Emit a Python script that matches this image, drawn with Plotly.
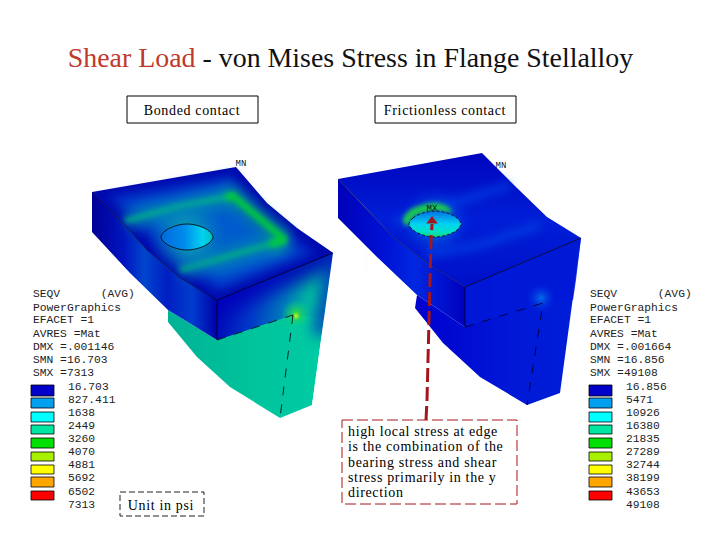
import json
import plotly.graph_objects as go

TITLE_RED = "Shear Load"
TITLE_REST = " - von Mises Stress in Flange Stellalloy"

BAND_COLORS = ["#0000c8", "#00a0f0", "#00ffff", "#00e6a0", "#00e000", "#a8f000", "#ffff00", "#ffa500", "#ff0000"]
BAND_TOPS = [385, 398, 412, 425, 438, 452, 465, 477, 491]
BAND_HEIGHTS = [11, 10, 10, 9, 10, 9, 9, 10, 9]
LABEL_Y = [387, 400, 413, 426, 439, 452, 465, 478, 492, 505]
HEADER_Y = [294, 308, 320, 334, 347, 360, 373]

LEFT_HEADER = ["SEQV      (AVG)", "PowerGraphics", "EFACET =1", "AVRES =Mat", "DMX =.001146", "SMN =16.703", "SMX =7313"]
LEFT_LABELS = ["16.703", "827.411", "1638", "2449", "3260", "4070", "4881", "5692", "6502", "7313"]
RIGHT_HEADER = ["SEQV      (AVG)", "PowerGraphics", "EFACET =1", "AVRES =Mat", "DMX =.001664", "SMN =16.856", "SMX =49108"]
RIGHT_LABELS = ["16.856", "5471", "10926", "16380", "21835", "27289", "32744", "38199", "43653", "49108"]
NOTE_LINES = ["high local stress at edge", "is the combination of the", "bearing stress and shear", "stress primarily in the y", "direction"]
NOTE_Y = [432, 447, 463, 478, 493]

# Left part outlines (x, y pairs)
L_TOP_X = [92, 236, 267, 297, 333, 217, 180, 147, 117, 92]
L_TOP_Y = [192, 167, 203, 228, 253, 300, 278, 250, 217, 192]
L_IN1_X = [108, 232, 262, 290, 315, 218, 183, 152, 125, 108]
L_IN1_Y = [196, 175, 210, 232, 254, 292, 270, 242, 215, 196]
L_IN2_X = [122, 228, 255, 282, 300, 220, 188, 160, 135, 122]
L_IN2_Y = [202, 182, 215, 236, 254, 284, 262, 236, 213, 202]
L_IN3_X = [135, 225, 248, 272, 285, 222, 195, 170, 147, 135]
L_IN3_Y = [207, 190, 220, 240, 254, 276, 256, 232, 213, 207]
L_SIDE_X = [92, 117, 147, 180, 217, 217, 168, 130, 92, 92]
L_SIDE_Y = [192, 217, 250, 278, 300, 340, 310, 273, 232, 192]
L_WEB_X = [168, 168, 197, 230, 280, 312, 333, 217, 217, 168]
L_WEB_Y = [310, 322, 357, 387, 418, 405, 253, 300, 340, 310]
L_FRONT_X = [217, 333, 325, 293, 217]
L_FRONT_Y = [300, 253, 318, 315, 340]
L_EDGE_X = [205, 345]
L_EDGE_Y = [305, 248]
L_REDGE_X = [337, 320]
L_REDGE_Y = [250, 335]
L_MASK_X = [297, 333, 312, 365, 365, 297]
L_MASK_Y = [228, 253, 405, 405, 205, 228]

# Stress ridges on the left top face
L_RIDGE1_X = [125, 180, 233]
L_RIDGE1_Y = [221, 206, 196]
L_RIDGE2_X = [226, 233, 285, 270]
L_RIDGE2_Y = [197, 196, 240, 244]
L_RIDGE3_X = [285, 230, 180]
L_RIDGE3_Y = [240, 256, 270]

# Right part outlines
R_TOP_X = [338, 482, 517, 547, 581, 465, 430, 393, 363, 338]
R_TOP_Y = [179, 153, 188, 217, 238, 287, 265, 237, 205, 179]
R_SIDE_X = [338, 363, 393, 430, 465, 465, 417, 377, 338, 338]
R_SIDE_Y = [179, 205, 237, 265, 287, 327, 295, 257, 218, 179]
R_WEB_X = [417, 415, 443, 480, 527, 560, 581, 465, 465, 417]
R_WEB_Y = [295, 308, 343, 377, 405, 393, 238, 287, 327, 295]
R_FRONT_X = [465, 581, 576, 573, 543, 465]
R_FRONT_Y = [287, 238, 280, 300, 303, 327]
R_RIDGE1_X = [395, 450, 510]
R_RIDGE1_Y = [222, 205, 185]
R_RIDGE2_X = [425, 480, 540]
R_RIDGE2_Y = [255, 245, 225]

# Holes (closed outlines)
L_HOLE_X = [161, 165, 175, 187, 199, 209, 213, 209, 199, 187, 175, 165, 161]
L_HOLE_Y = [237, 231, 226, 224, 226, 231, 237, 243, 248, 250, 248, 243, 237]
R_HOLE_X = [409, 413, 423, 435, 447, 457, 461, 457, 447, 435, 423, 413, 409]
R_HOLE_Y = [224, 218, 213, 211, 213, 218, 224, 230, 235, 237, 235, 230, 224]
R_GLOW_X = [403, 410, 422, 436, 448, 452, 440, 426, 414, 407, 403]
R_GLOW_Y = [220, 210, 205, 203, 207, 212, 211, 212, 217, 226, 220]

fig = go.Figure()
soft = []  # (scatter-trace index, blur radius)


def mark_soft(blur):
    if blur:
        soft.append((len(fig.data) - 1, blur))


def poly(xs, ys, color=None, grad=None, shape="linear", blur=0):
    kw = dict(x=xs, y=ys, mode="lines", fill="toself", hoverinfo="skip", showlegend=False,
              line=dict(color="rgba(0,0,0,0)", width=0, shape=shape))
    if grad:
        kw["fillgradient"] = dict(type=grad[0], colorscale=grad[1])
    else:
        kw["fillcolor"] = color
    fig.add_trace(go.Scatter(**kw))
    mark_soft(blur)


def stroke(xs, ys, color="black", width=1, dash="solid", shape="linear", blur=0):
    fig.add_trace(go.Scatter(x=xs, y=ys, mode="lines", hoverinfo="skip", showlegend=False,
                             line=dict(color=color, width=width, dash=dash, shape=shape)))
    mark_soft(blur)


def glow(x, y, size, inner, outer):
    fig.add_trace(go.Scatter(x=[x], y=[y], mode="markers", hoverinfo="skip", showlegend=False,
                             marker=dict(size=size, color=outer, line=dict(width=0),
                                         gradient=dict(type="radial", color=inner))))


# ---------- left part ----------
poly(L_WEB_X, L_WEB_Y, grad=("horizontal", [[0, "rgb(0,178,150)"], [0.5, "rgb(0,195,155)"], [1, "rgb(0,205,165)"]]))
poly(L_FRONT_X, L_FRONT_Y, grad=("horizontal", [[0, "rgb(0,10,185)"], [0.3, "rgb(0,60,200)"], [0.6, "rgb(0,130,185)"],
                                                [0.8, "rgb(0,190,160)"], [1, "rgb(0,195,165)"]]))
stroke(L_EDGE_X, L_EDGE_Y, "rgba(0,0,185,0.9)", 30, blur=9)
stroke(L_REDGE_X, L_REDGE_Y, "rgba(0,40,190,0.8)", 16, blur=7)
glow(296, 314, 30, "rgba(60,220,60,1)", "rgba(0,210,130,0)")
glow(296, 316, 10, "rgba(235,240,40,1)", "rgba(60,220,60,0)")
poly(L_MASK_X, L_MASK_Y, "white")
poly(L_SIDE_X, L_SIDE_Y, grad=("horizontal", [[0, "rgb(0,0,150)"], [0.25, "rgb(0,20,190)"], [0.42, "rgb(0,70,205)"],
                                              [0.6, "rgb(0,30,195)"], [0.8, "rgb(0,60,205)"], [1, "rgb(0,0,170)"]]))
poly(L_TOP_X, L_TOP_Y, "rgb(0,10,175)")
poly(L_IN1_X, L_IN1_Y, "rgba(0,60,205,0.7)", blur=5)
poly(L_IN2_X, L_IN2_Y, "rgba(0,85,210,0.7)", blur=5)
poly(L_IN3_X, L_IN3_Y, "rgba(0,105,205,0.6)", blur=5)
stroke(L_RIDGE1_X, L_RIDGE1_Y, "rgba(0,150,170,0.55)", 20, blur=6)
stroke(L_RIDGE3_X, L_RIDGE3_Y, "rgba(0,150,170,0.55)", 20, blur=6)
stroke(L_RIDGE2_X, L_RIDGE2_Y, "rgba(0,170,130,0.6)", 18, blur=6)
stroke(L_RIDGE1_X, L_RIDGE1_Y, "rgba(0,185,130,0.7)", 6, blur=2.5)
stroke(L_RIDGE3_X, L_RIDGE3_Y, "rgba(0,185,120,0.7)", 6, blur=2.5)
stroke(L_RIDGE2_X, L_RIDGE2_Y, "rgba(0,200,60,0.95)", 7, blur=2.5)
glow(187, 237, 80, "rgba(20,205,150,0.95)", "rgba(0,120,200,0)")
poly(L_HOLE_X, L_HOLE_Y, grad=("horizontal", [[0, "rgb(0,105,220)"], [0.45, "rgb(0,140,235)"], [0.8, "rgb(0,210,240)"], [1, "rgb(0,190,190)"]]), shape="spline")
stroke(L_HOLE_X, L_HOLE_Y, "black", 0.8, shape="spline")
stroke(L_TOP_X[5:10], L_TOP_Y[5:10], "rgba(0,0,40,0.85)", 0.8)
stroke([L_TOP_X[4], L_TOP_X[5], 217], [L_TOP_Y[4], L_TOP_Y[5], 340], "rgba(0,0,30,0.9)", 0.9)
stroke([217, 293], [340, 315], "rgba(0,30,40,0.95)", 1, "dash")
stroke([293, 280], [315, 418], "rgba(0,30,40,0.95)", 1, "dash")

# ---------- right part ----------
poly(R_WEB_X, R_WEB_Y, grad=("horizontal", [[0, "rgb(0,0,205)"], [0.6, "rgb(0,25,215)"], [1, "rgb(0,30,215)"]]))
poly(R_FRONT_X, R_FRONT_Y, "rgba(0,25,215,0.8)")
glow(541, 298, 30, "rgba(0,120,235,0.9)", "rgba(0,40,220,0)")
poly(R_SIDE_X, R_SIDE_Y, grad=("horizontal", [[0, "rgb(0,0,185)"], [0.4, "rgb(0,20,215)"], [0.6, "rgb(0,40,225)"], [1, "rgb(0,0,190)"]]))
poly(R_TOP_X, R_TOP_Y, grad=("vertical", [[0, "rgb(0,15,200)"], [0.5, "rgb(0,30,215)"], [1, "rgb(0,5,190)"]]))
for rx, ry in [(R_RIDGE1_X, R_RIDGE1_Y), (R_RIDGE2_X, R_RIDGE2_Y)]:
    stroke(rx, ry, "rgba(0,85,235,0.55)", 8, blur=5)
glow(435, 222, 74, "rgba(0,175,230,0.95)", "rgba(0,40,220,0)")
poly(R_GLOW_X, R_GLOW_Y, "rgba(30,210,70,0.95)", shape="spline", blur=2)
poly(R_HOLE_X, R_HOLE_Y, grad=("vertical", [[0, "rgb(20,215,110)"], [0.2, "rgb(0,225,200)"], [0.5, "rgb(0,210,240)"], [1, "rgb(0,110,230)"]]), shape="spline")
stroke(R_HOLE_X, R_HOLE_Y, "black", 0.8, "3px,2px", "spline")
stroke(R_TOP_X[5:10], R_TOP_Y[5:10], "rgba(0,0,40,0.7)", 0.7)
stroke([R_TOP_X[4], R_TOP_X[5], 465], [R_TOP_Y[4], R_TOP_Y[5], 327], "rgba(0,0,30,0.9)", 0.9)
stroke([465, 543, 527], [327, 303, 405], "rgba(0,0,60,0.95)", 1, "dash")

# ---------- legends ----------
for cx, hx, lx, hdr, lab in [(42.5, 33, 68, LEFT_HEADER, LEFT_LABELS), (600.5, 590, 626, RIGHT_HEADER, RIGHT_LABELS)]:
    fig.add_trace(go.Bar(x=[cx] * 9, y=BAND_HEIGHTS, base=BAND_TOPS, width=23, hoverinfo="skip", showlegend=False,
                         marker=dict(color=BAND_COLORS, line=dict(color="black", width=0.8))))
    fig.add_trace(go.Scatter(x=[hx] * 7, y=HEADER_Y, text=hdr, mode="text", textposition="middle right", hoverinfo="skip",
                             showlegend=False, textfont=dict(family="Liberation Mono", size=11.3, color="#222")))
    fig.add_trace(go.Scatter(x=[lx] * 10, y=LABEL_Y, text=lab, mode="text", textposition="middle right", hoverinfo="skip",
                             showlegend=False, textfont=dict(family="Liberation Mono", size=11.3, color="#222")))

# node labels
fig.add_trace(go.Scatter(x=[241, 501, 432], y=[164, 166, 209], text=["MN", "MN", "MX"], mode="text", hoverinfo="skip", showlegend=False,
                         textfont=dict(family="Liberation Mono", size=9, color="#111")))

# ---------- note arrow ----------
stroke([426, 427, 431, 432], [420, 400, 240, 224], "#a5161c", 3, "14px,5px")
fig.add_trace(go.Scatter(x=[432], y=[221], mode="markers", hoverinfo="skip", showlegend=False,
                         marker=dict(symbol="triangle-up", size=10, color="#a5161c", line=dict(width=0))))

# ---------- boxes ----------
for xs, ys, col, dash in [([127, 258, 258, 127, 127], [96, 96, 123, 123, 96], "black", "solid"),
                          ([375, 516, 516, 375, 375], [96, 96, 123, 123, 96], "black", "solid"),
                          ([120, 204, 204, 120, 120], [492, 492, 516, 516, 492], "#222", "6px,3px"),
                          ([342, 517, 517, 342, 342], [420, 420, 504, 504, 420], "#a5161c", "11px,4px")]:
    stroke(xs, ys, col, 1, dash)

SERIF = "Liberation Serif"
fig.add_trace(go.Scatter(x=[192, 445, 161], y=[111, 111, 506], text=["Bonded contact", "Frictionless contact", "Unit in psi"],
                         mode="text", hoverinfo="skip", showlegend=False, textfont=dict(family=SERIF, size=14, color="black")))
fig.add_trace(go.Scatter(x=[348] * 5, y=NOTE_Y, text=NOTE_LINES, mode="text", textposition="middle right", hoverinfo="skip",
                         showlegend=False, textfont=dict(family=SERIF, size=14, color="black")))
fig.add_trace(go.Scatter(x=[350.5], y=[60], mode="text", hoverinfo="skip", showlegend=False,
                         text=[f'<span style="color:#c0392b">{TITLE_RED}</span>{TITLE_REST}'],
                         textfont=dict(family=SERIF, size=27.9, color="#111")))

fig.update_layout(width=720, height=540, margin=dict(l=0, r=0, t=0, b=0), paper_bgcolor="white", plot_bgcolor="white",
                  showlegend=False, barmode="overlay",
                  xaxis=dict(range=[0, 720], visible=False, fixedrange=True),
                  yaxis=dict(range=[540, 0], visible=False, fixedrange=True))

POST = """
document.body.style.margin = '0';
var softTraces = %s;
var applyStyles = function () {
  var groups = document.querySelectorAll('.scatterlayer .trace');
  softTraces.forEach(function (s) { if (groups[s[0]]) groups[s[0]].style.filter = 'blur(' + s[1] + 'px)'; });
  document.querySelectorAll('.textpoint text').forEach(function (t) {
    if (parseFloat(t.style.fontSize) === 14) t.style.letterSpacing = '0.65px';
  });
};
applyStyles();
setTimeout(applyStyles, 50);
""" % json.dumps(soft)
fig.write_html("out.html", post_script=POST, config={"displayModeBar": False})
